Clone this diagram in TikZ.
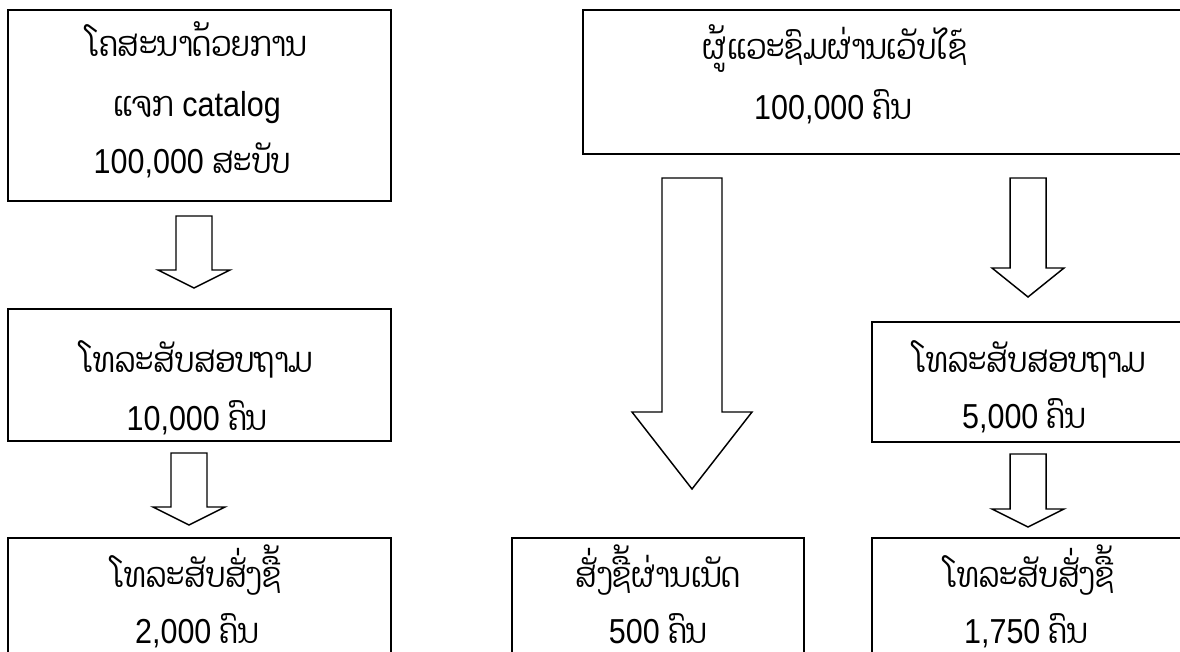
\documentclass[tikz,border=0pt]{standalone}
\usepackage{fontspec}
\setmainfont[FakeStretch=0.88]{Liberation Sans}
\newfontfamily\lao[Script=Lao,FakeStretch=0.85]{Dhyana}
\usetikzlibrary{fit}
\tikzset{
  box/.style={draw=black, line width=1.5pt, inner sep=0pt, fill=white},
  lbl/.style={anchor=base, inner sep=0pt, text depth=0pt, font=\fontsize{26}{30}\selectfont},
  blk/.style={draw=black, line width=1.1pt, fill=white, line join=miter}
}
\newcommand\blkarrow[6]{% cx, top, base, tip, shaft half width, head half width
  \draw[blk] ({#1-#5},#2) -- ({#1+#5},#2) -- ({#1+#5},#3) -- ({#1+#6},#3) -- (#1,#4)
    -- ({#1-#6},#3) -- ({#1-#5},#3) -- cycle;}
\begin{document}
\begin{tikzpicture}[x=0.75pt,y=-0.75pt]
\clip (0,0) rectangle (1180,652);
\fill[white] (0,0) rectangle (1180,652);
% boxes
\node[box, fit={(8,10) (391,201)}] (b1) {};
\node[box, fit={(8,309) (391,441)}] (b2) {};
\node[box, fit={(8,538) (391,664)}] (b3) {};
\node[box, fit={(583,10) (1186,154)}] (b4) {};
\node[box, fit={(872,322) (1186,442)}] (b5) {};
\node[box, fit={(512,538) (804,664)}] (b6) {};
\node[box, fit={(872,538) (1186,664)}] (b7) {};
% texts
\node[lbl] (t1a) at (197,57) {\lao ໂຄສະນາດ້ວຍການ};
\node[lbl] (t1b) at (197,117) {{\lao ແຈກ} catalog};
\node[lbl] (t1c) at (192,174) {100,000 {\lao ສະບັບ}};
\node[lbl] (t2a) at (197,372) {\lao ໂທລະສັບສອບຖາມ};
\node[lbl] (t2b) at (197,430) {10,000 {\lao ຄົນ}};
\node[lbl] (t3a) at (197,587) {\lao ໂທລະສັບສັ່ງຊື້};
\node[lbl] (t3b) at (197,643) {2,000 {\lao ຄົນ}};
\node[lbl] (t4a) at (835,60) {\lao ຜູ້ແວະຊົມຜ່ານເວັບໄຊ໌};
\node[lbl] (t4b) at (833,120) {100,000 {\lao ຄົນ}};
\node[lbl] (t5a) at (1030,372) {\lao ໂທລະສັບສອບຖາມ};
\node[lbl] (t5b) at (1024,428) {5,000 {\lao ຄົນ}};
\node[lbl] (t6a) at (658,587) {\lao ສັ່ງຊື້ຜ່ານເນັດ};
\node[lbl] (t6b) at (658,643) {500 {\lao ຄົນ}};
\node[lbl] (t7a) at (1030,587) {\lao ໂທລະສັບສັ່ງຊື້};
\node[lbl] (t7b) at (1026,643) {1,750 {\lao ຄົນ}};
% block arrows
\blkarrow{194}{216}{270}{288}{18}{36}
\blkarrow{189}{453}{507}{525}{18}{36}
\blkarrow{692}{178}{412}{489}{30}{60}
\blkarrow{1028}{178}{268}{297}{18}{36}
\blkarrow{1028}{454}{509}{527}{18}{36}
\end{tikzpicture}
\end{document}
